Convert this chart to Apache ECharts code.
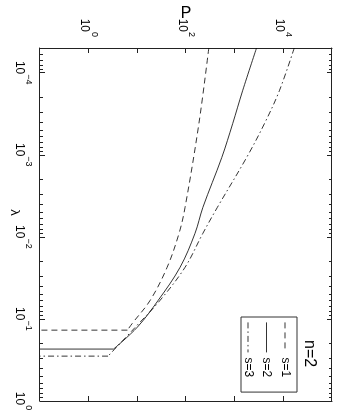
<!DOCTYPE html>
<html>
<head>
<meta charset="utf-8">
<script src="https://cdn.jsdelivr.net/npm/echarts@6/dist/echarts.min.js"></script>
<style>
  html, body { margin: 0; padding: 0; background: #fff; overflow: hidden; }
  /* chart is laid out upright, then turned a quarter turn clockwise like the figure */
  #main { position: absolute; left: 0; top: 0; width: 415px; height: 346px;
          transform-origin: 0 0; transform: translate(346px, 0) rotate(90deg); }
</style>
</head>
<body>
<div id="main"></div>
<script>
// values (lambda, P), last point drops to the axis floor
const lambdaS1 = [5e-5, 4.17e-4, 4.38e-3, 9.06e-3, 0.0235, 0.0592, 0.113, 0.137, 0.137]
const pS1 = [294, 184, 95.5, 71.9, 40.9, 18.4, 7.9, 6.25, 0.1]
const lambdaS2 = [5e-5, 1.66e-4, 4.17e-4, 1.08e-3, 4.38e-3, 9.06e-3, 0.0235, 0.0592, 0.126, 0.233, 0.233]
const pS2 = [2812, 1455, 910, 543, 222, 153, 75.5, 26.9, 10.0, 3.24, 0.1]
const lambdaS3 = [5e-5, 1.66e-4, 4.17e-4, 1.08e-3, 4.38e-3, 9.06e-3, 0.0235, 0.0592, 0.126, 0.284, 0.284]
const pS3 = [16750, 8280, 4090, 1758, 440, 222, 95.5, 29.4, 9.1, 2.5, 0.1]

const seriesNames = ['s=1', 's=2', 's=3']
const lambdaTickExp = [-4, -3, -2, -1, 0]
const pTickExp = [-1, 0, 1, 2, 3, 4, 5]
const pLabelExp = [0, 2, 4]
const lambdaMin = 5e-5
const lambdaMax = 1
const pMin = 0.1
const pMax = 1e5

const FONT = 'Liberation Sans, Arial, sans-serif'
const lamLo = Math.log10(lambdaMin)
const lamHi = Math.log10(lambdaMax)

// minor ticks at 2..9 of each decade
const minorTicks = []
for (let d = -5; d < 0; d++) {
  for (let k = 2; k <= 9; k++) {
    const v = d + Math.log10(k)
    if (v > lamLo && v < lamHi) minorTicks.push(v)
  }
}

function supLabel(v) {
  const n = Math.round(v)
  return '{b|10}{e|' + (n < 0 ? '\u2212' + -n : n) + '}'
}

const rich = {
  b: { fontSize: 12, fontFamily: FONT, color: '#000', lineHeight: 20, verticalAlign: 'bottom' },
  e: { fontSize: 9, fontFamily: FONT, color: '#000', lineHeight: 9, verticalAlign: 'top' },
}

const lineCol = { color: '#222', width: 1 }

function toPairs(xs, ys) {
  return xs.map((x, i) => [Math.log10(x), Math.log10(ys[i])])
}

function lamAxis(pos, ticks, len, main) {
  return {
    type: 'value',
    min: lamLo,
    max: lamHi,
    position: pos,
    axisLine: { show: main, onZero: false, lineStyle: lineCol },
    axisTick: { inside: true, length: len, customValues: ticks, lineStyle: lineCol },
    axisLabel: { show: false },
    splitLine: { show: false },
  }
}

const bottomMain = lamAxis('bottom', lambdaTickExp, 5, true)
bottomMain.axisLabel = { show: true, customValues: lambdaTickExp, formatter: supLabel, rich: rich, margin: 7 }
bottomMain.name = '\u03bb'
bottomMain.nameLocation = 'middle'
bottomMain.nameGap = 19
bottomMain.nameMoveOverlap = false
bottomMain.nameTextStyle = { fontSize: 13, fontFamily: FONT, color: '#000', padding: [0, 24, 0, 0] }

const styles = [[6, 4], 'solid', [6, 3, 1.5, 3]]

// each curve: smooth part down to the kink, then a straight drop to the floor
const curves = [
  [lambdaS1, pS1],
  [lambdaS2, pS2],
  [lambdaS3, pS3],
]
const series = []
curves.forEach(([xs, ys], i) => {
  const pts = toPairs(xs, ys)
  const base = {
    name: seriesNames[i],
    type: 'line',
    xAxisIndex: 0,
    yAxisIndex: 0,
    symbol: 'none',
    itemStyle: { color: '#000' },
    lineStyle: { color: '#000', width: 0.8, type: styles[i] },
  }
  series.push(Object.assign({}, base, { data: pts.slice(0, -1), smooth: 0.35 }))
  series.push(Object.assign({}, base, { data: pts.slice(-2) }))
})

const option = {
  animation: false,
  backgroundColor: '#fff',
  grid: { left: 48, right: 14, top: 14, bottom: 40, outerBoundsMode: 'none' },
  title: {
    text: 'n=2',
    left: 340,
    top: 29,
    padding: 0,
    textStyle: { fontSize: 16, fontWeight: 'normal', fontFamily: FONT, color: '#000' },
  },
  legend: {
    data: seriesNames,
    orient: 'vertical',
    left: 317,
    top: 49,
    padding: [6, 15, 1, 5],
    itemWidth: 30,
    itemHeight: 14,
    itemGap: 6.5,
    itemStyle: { opacity: 0 },
    lineStyle: { width: 0.8, color: '#000' },
    borderColor: '#333',
    borderWidth: 1,
    backgroundColor: '#fff',
    textStyle: { fontSize: 12, fontFamily: FONT, color: '#000' },
  },
  xAxis: [
    bottomMain,
    lamAxis('bottom', minorTicks, 3, false),
    lamAxis('top', lambdaTickExp, 5, true),
    lamAxis('top', minorTicks, 3, false),
  ],
  yAxis: [
    {
      type: 'value',
      min: Math.log10(pMin),
      max: Math.log10(pMax),
      interval: 1,
      position: 'left',
      axisLine: { onZero: false, lineStyle: lineCol },
      axisTick: { inside: true, length: 5, customValues: pTickExp, lineStyle: lineCol },
      axisLabel: { customValues: pLabelExp, formatter: supLabel, rich: rich, margin: 11 },
      splitLine: { show: false },
      name: 'P',
      nameLocation: 'middle',
      nameGap: 26,
      nameRotate: 90,
      nameMoveOverlap: false,
      nameTextStyle: { fontSize: 16, fontFamily: FONT, color: '#000' },
    },
    {
      type: 'value',
      min: Math.log10(pMin),
      max: Math.log10(pMax),
      interval: 1,
      position: 'right',
      axisLine: { onZero: false, lineStyle: lineCol },
      axisTick: { inside: true, length: 5, customValues: pTickExp, lineStyle: lineCol },
      axisLabel: { show: false },
      splitLine: { show: false },
    },
  ],
  series: series,
}

const myChart = echarts.init(document.getElementById('main'))
myChart.setOption(option)
</script>
</body>
</html>
